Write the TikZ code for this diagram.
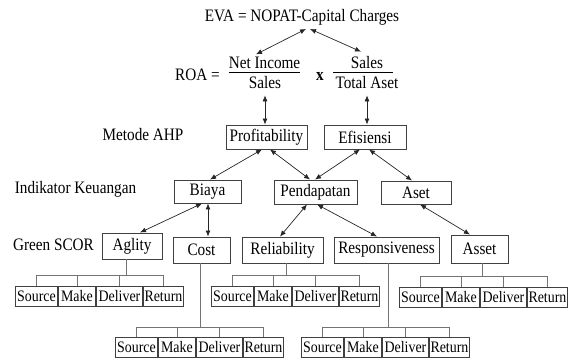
\documentclass[tikz,border=0pt]{standalone}
\usepackage{fontspec}
\setmainfont{Liberation Serif}[FakeStretch=0.87]
\usetikzlibrary{arrows.meta}
\newcommand\sgroup[5]{% prefix, left x, top y, junction x, junction y
  \node[sbox,minimum width=42pt] (#1s) at (#2,#3) {Source};
  \node[sbox,minimum width=37pt] (#1m) at (#2+43,#3) {Make};
  \node[sbox,minimum width=46pt] (#1d) at (#2+81,#3) {Deliver};
  \node[sbox,minimum width=40pt] (#1r) at (#2+128,#3) {Return};
  \coordinate (#1j) at (#4,#5);
  \draw[br] (#1s.north) -- (#1s.north |- #1j) -- (#1r.north |- #1j) -- (#1r.north);
  \draw[br] (#1m.north) -- (#1m.north |- #1j);
  \draw[br] (#1d.north) -- (#1d.north |- #1j);
}
\begin{document}
\begin{tikzpicture}[x=1pt,y=-1pt,
  box/.style={draw=black!75,line width=0.9pt,inner sep=0pt,font=\fontsize{17.5}{19}\selectfont},
  sbox/.style={draw=black!75,line width=0.9pt,inner sep=0pt,minimum height=20pt,anchor=north west,font=\fontsize{16}{18}\selectfont},
  lbl/.style={inner sep=0pt,anchor=base,font=\fontsize{17.5}{19}\selectfont},
  arr/.style={{Latex[length=6pt,width=5pt]}-{Latex[length=6pt,width=5pt]},line width=0.7pt,draw=black!85},
  br/.style={draw=black!55,line width=0.9pt}]
\useasboundingbox (0,0) rectangle (570,358);

% top formulas
\node[lbl] (eva) at (302,22) {EVA = NOPAT-Capital Charges};
\node[lbl] (roa) at (197.5,81) {ROA =};
\node[lbl] (ni) at (264.5,69) {Net Income};
\node[lbl] (s1) at (265,89) {Sales};
\draw[line width=0.6pt] (229,72) -- (300,72);
\node[lbl,font=\fontsize{17.5}{19}\selectfont\bfseries] (xx) at (320,81) {x};
\node[lbl] (sn) at (367,69) {Sales};
\node[lbl] (ta) at (367,89) {Total Aset};
\draw[line width=0.6pt] (333,72) -- (393,72);

% row labels
\node[lbl] (mah) at (143,141) {Metode AHP};
\node[lbl] (ikk) at (75.5,194) {Indikator Keuangan};
\node[lbl] (gsc) at (53.5,250) {Green SCOR};

% boxes
\node[box,minimum width=81pt,minimum height=24pt] (prof) at (266.5,137) {Profitability};
\node[box,minimum width=82pt,minimum height=24pt] (efi) at (365,137) {Efisiensi};
\node[box,minimum width=67pt,minimum height=23pt] (bia) at (207.5,191.5) {Biaya};
\node[box,minimum width=83pt,minimum height=24pt] (pen) at (315.5,192) {Pendapatan};
\node[box,minimum width=70pt,minimum height=23pt] (ase) at (416,192.5) {Aset};
\node[box,minimum width=60pt,minimum height=26pt] (agl) at (132,246) {Aglity};
\node[box,minimum width=57pt,minimum height=26pt] (cos) at (201.5,250) {Cost};
\node[box,minimum width=81pt,minimum height=26pt] (rel) at (282.5,250) {Reliability};
\node[box,minimum width=105pt,minimum height=26pt] (res) at (386.5,250) {Responsiveness};
\node[box,minimum width=57pt,minimum height=28pt] (ass) at (479.5,249) {Asset};

% arrows
\draw[arr] ([xshift=4pt,yshift=-3pt]eva.south) -- ([xshift=-8.5pt,yshift=3pt]ni.north);
\draw[arr] ([xshift=8pt,yshift=-3pt]eva.south) -- ([xshift=-6pt,yshift=5pt]sn.north);
\draw[arr] ([yshift=-6pt]s1.south) -- ([xshift=-1.5pt]prof.north);
\draw[arr] ([yshift=-6pt]ta.south) -- ([xshift=2pt]efi.north);
\draw[arr] ([xshift=-4.5pt]prof.south) -- ([xshift=2.5pt]bia.north);
\draw[arr] ([xshift=3.5pt]prof.south) -- ([xshift=-5.5pt]pen.north);
\draw[arr] ([xshift=-5pt]efi.south) -- ([xshift=-0.5pt]pen.north);
\draw[arr] ([xshift=4pt]efi.south) -- ([xshift=-4pt]ase.north);
\draw[arr] ([xshift=-5.5pt]bia.south) -- ([xshift=8pt]agl.north);
\draw[arr] ([xshift=0.5pt]bia.south) -- ([xshift=6.5pt]cos.north);
\draw[arr] ([xshift=-8.5pt]pen.south) -- ([xshift=-2.5pt]rel.north);
\draw[arr] ([xshift=1.5pt]pen.south) -- ([xshift=-9.5pt]res.north);
\draw[arr] ([xshift=4pt]ase.south) -- ([xshift=-9.5pt]ass.north);

% sub-groups
\sgroup{ga}{15}{286}{126}{275}
\draw[br] (gaj) -- (gaj |- agl.south);
\sgroup{gr}{211}{286}{286}{275}
\draw[br] (grj) -- (grj |- rel.south);
\sgroup{gs}{399}{287}{482}{276}
\draw[br] (gsj) -- (gsj |- ass.south);
\sgroup{gc}{115}{337}{200}{327}
\draw[br] (gcj) -- (gcj |- cos.south);
\sgroup{gp}{301}{337}{388}{327}
\draw[br] (gpj) -- (gpj |- res.south);
\end{tikzpicture}
\end{document}
